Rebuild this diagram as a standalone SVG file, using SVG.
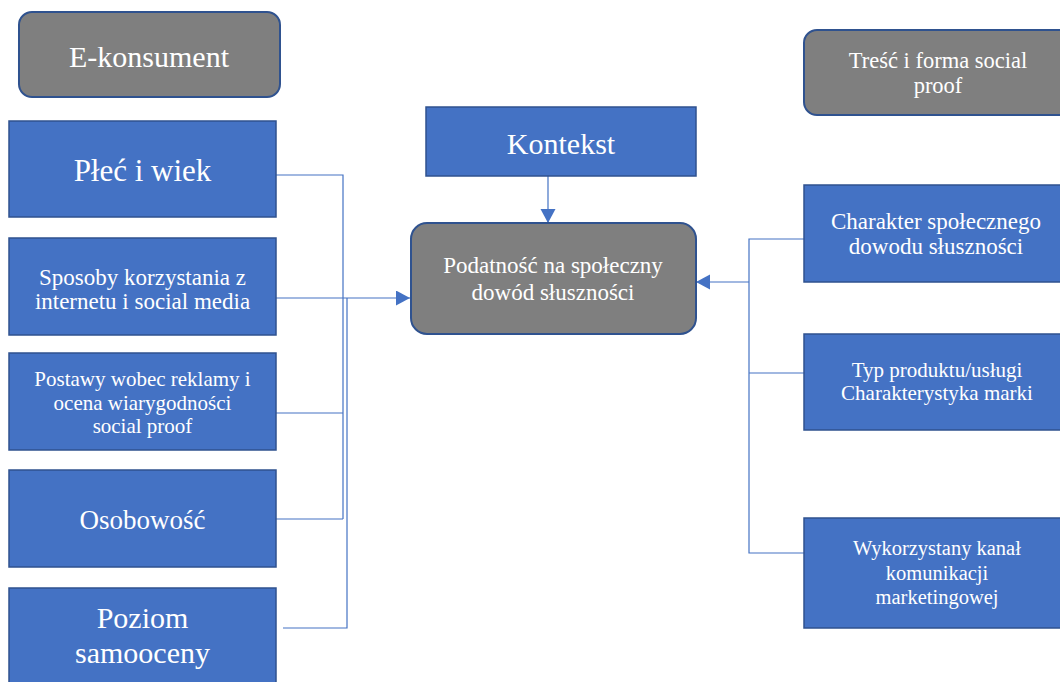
<svg xmlns="http://www.w3.org/2000/svg" width="1060" height="682" viewBox="0 0 1060 682">
<style>
.blue{fill:#4472C4;stroke:#2F528F;stroke-width:1.5}
.gray{fill:#7F7F7F;stroke:#2F528F;stroke-width:2}
.t{fill:#ffffff;font-family:'Liberation Serif',serif;text-anchor:middle}
.con{fill:none;stroke:#4472C4;stroke-width:1.2}
</style>
<defs>
<marker id="arr" markerUnits="userSpaceOnUse" markerWidth="15" markerHeight="16" refX="14" refY="7.5" orient="auto">
<path d="M0,0 L14,7.5 L0,15 z" fill="#4472C4"/>
</marker>
</defs>
<rect x="0" y="0" width="1060" height="682" fill="#ffffff"/>
<g id="connectors">
<path class="con" d="M276,175 H343 V519"/>
<path class="con" d="M276,413 H343"/>
<path class="con" d="M276,519 H343"/>
<path class="con" d="M283,628 H347 V298"/>
<path class="con" d="M276,298 H410" marker-end="url(#arr)"/>
<path class="con" d="M548,176 V223" marker-end="url(#arr)"/>
<path class="con" d="M804,239 H749 V553 H804"/>
<path class="con" d="M749,373 H804"/>
<path class="con" d="M749,282 H696" marker-end="url(#arr)"/>
</g>
<g id="e-konsument">
<rect class="gray" x="19" y="12" width="261" height="85" rx="13"/>
<text class="t" x="149" y="67" font-size="30">E-konsument</text>
</g>
<g id="plec">
<rect class="blue" x="9" y="121" width="267" height="96"/>
<text class="t" x="142.5" y="181" font-size="31">Płeć i wiek</text>
</g>
<g id="sposoby">
<rect class="blue" x="9" y="238" width="267" height="97"/>
<text class="t" x="142.5" y="285" font-size="23">Sposoby korzystania z</text>
<text class="t" x="142.5" y="309" font-size="23">internetu i social media</text>
</g>
<g id="postawy">
<rect class="blue" x="9" y="353" width="267" height="97"/>
<text class="t" x="142.5" y="386" font-size="21">Postawy wobec reklamy i</text>
<text class="t" x="142.5" y="410" font-size="21">ocena wiarygodności</text>
<text class="t" x="142.5" y="433" font-size="21">social proof</text>
</g>
<g id="osobowosc">
<rect class="blue" x="9" y="470" width="267" height="97"/>
<text class="t" x="142.5" y="529" font-size="27">Osobowość</text>
</g>
<g id="poziom">
<rect class="blue" x="9" y="588" width="267" height="100"/>
<text class="t" x="142.5" y="628" font-size="30">Poziom</text>
<text class="t" x="142.5" y="663" font-size="30">samooceny</text>
</g>
<g id="kontekst">
<rect class="blue" x="426" y="107" width="270" height="69"/>
<text class="t" x="561" y="154" font-size="30">Kontekst</text>
</g>
<g id="podatnosc">
<rect class="gray" x="411" y="223" width="285" height="111" rx="16"/>
<text class="t" x="553" y="273" font-size="23">Podatność na społeczny</text>
<text class="t" x="553" y="300" font-size="23">dowód słuszności</text>
</g>
<g id="tresc">
<rect class="gray" x="804" y="30" width="270" height="85" rx="13"/>
<text class="t" x="938" y="68" font-size="22.5">Treść i forma social</text>
<text class="t" x="938" y="93" font-size="22.5">proof</text>
</g>
<g id="charakter">
<rect class="blue" x="804" y="185" width="270" height="97"/>
<text class="t" x="936" y="229" font-size="23">Charakter społecznego</text>
<text class="t" x="936" y="254" font-size="23">dowodu słuszności</text>
</g>
<g id="typ">
<rect class="blue" x="804" y="334" width="270" height="96"/>
<text class="t" x="937" y="377" font-size="21">Typ produktu/usługi</text>
<text class="t" x="937" y="400" font-size="21">Charakterystyka marki</text>
</g>
<g id="kanal">
<rect class="blue" x="804" y="518" width="270" height="110"/>
<text class="t" x="937" y="555" font-size="20.5">Wykorzystany kanał</text>
<text class="t" x="937" y="580" font-size="20.5">komunikacji</text>
<text class="t" x="937" y="604" font-size="20.5">marketingowej</text>
</g>
</svg>
